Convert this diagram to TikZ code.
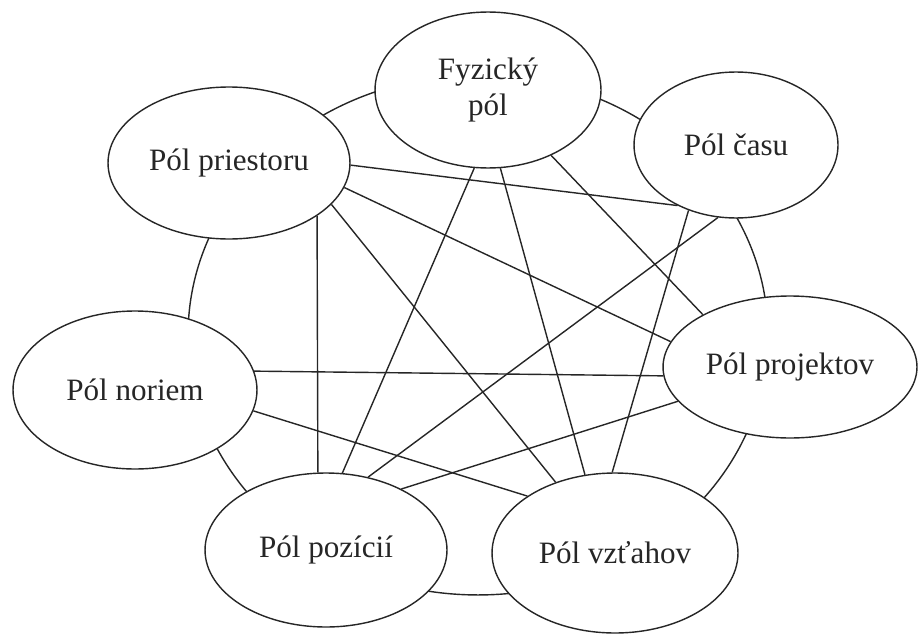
\documentclass[tikz,border=0pt]{standalone}
\usepackage{fontspec}
\setmainfont{Liberation Serif}
\usepackage{tikz}
\usetikzlibrary{shapes.geometric}

\begin{document}
\begin{tikzpicture}[x=0.02cm,y=-0.02cm,color=black!85,line width=0.8pt,every node/.style={draw,ellipse,fill=white,inner sep=0pt,align=center,font=\fontsize{17.7pt}{20.5pt}\selectfont}]
  \useasboundingbox (0,0) rectangle (918,635);
  \node (ring) at (478,335)[fill=none,minimum width=11.6cm,minimum height=10.4cm]{};

  \node (fyz) at (488,90)[minimum width=4.52cm,minimum height=3.12cm]{Fyzický\\pól};
  \node (pries) at (229,163)[minimum width=4.84cm,minimum height=3.04cm]{Pól priestoru};
  \node (cas) at (736,145)[minimum width=4.08cm,minimum height=2.92cm]{Pól času};
  \node (nor) at (135,390)[minimum width=4.88cm,minimum height=3.16cm]{Pól noriem};
  \node (proj) at (790,367)[minimum width=5.08cm,minimum height=2.84cm]{Pól projektov};
  \node (poz) at (326,550)[minimum width=4.84cm,minimum height=3.08cm]{Pól pozícií};
  \node (vzt) at (615,553)[minimum width=4.92cm,minimum height=3.2cm]{Pól vzťahov};

  \draw (pries.-1)--(cas.-134);
  \draw (pries.-12)--(proj.168);
  \draw (pries.-22)--(vzt.130);
  \draw (pries.-31)--(poz.96);
  \draw (fyz.-100)--(poz.78);
  \draw (fyz.-81)--(vzt.111);
  \draw (fyz.-46)--(proj.149);
  \draw (cas.-126)--(vzt.92);
  \draw (cas.-104)--(poz.60);
  \draw (nor.9)--(proj.184);
  \draw (nor.-10)--(vzt.147);
  \draw (poz.39)--(proj.197);
\end{tikzpicture}
\end{document}
